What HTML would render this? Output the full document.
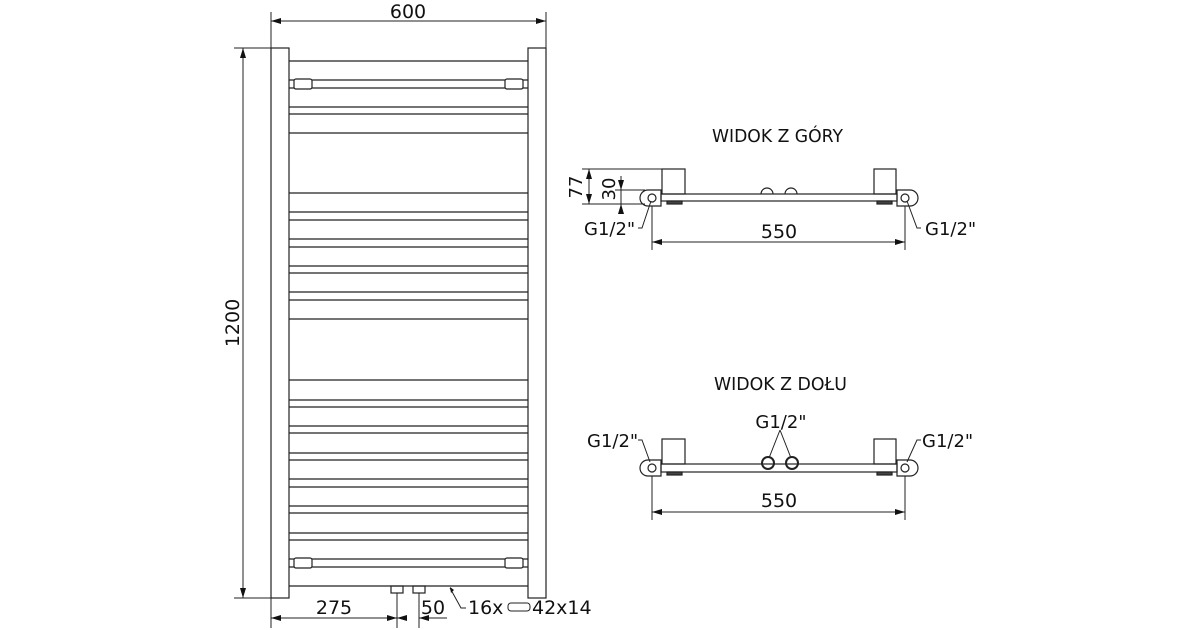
<!DOCTYPE html>
<html><head><meta charset="utf-8"><style>
html,body{margin:0;padding:0;background:#fff;}
svg{display:block;}
text{font-family:"DejaVu Sans","Liberation Sans",sans-serif;fill:#111;}
</style></head><body>
<svg width="1200" height="630" viewBox="0 0 1200 630" xmlns="http://www.w3.org/2000/svg">
<defs>
<marker id="a" viewBox="0 0 10 6" refX="10" refY="3" markerWidth="10" markerHeight="6" orient="auto-start-reverse" markerUnits="userSpaceOnUse"><path d="M0,0 L10,3 L0,6 z" fill="#111"/></marker>
</defs>
<g stroke="#222" stroke-width="1.2" fill="none">
<rect x="271" y="48" width="18" height="550"/>
<rect x="528" y="48" width="18" height="550"/>
<path d="M289 61H528 M289 107H528 M289 114H528 M289 133H528 M289 193H528 M289 212H528 M289 220H528 M289 239H528 M289 247H528 M289 266H528 M289 273H528 M289 292H528 M289 300H528 M289 319H528 M289 380H528 M289 400H528 M289 407H528 M289 426H528 M289 433H528 M289 453H528 M289 460H528 M289 479H528 M289 487H528 M289 506H528 M289 513H528 M289 533H528 M289 540H528 M289 586H528"/>
<path d="M289 80H528 M289 88H528 M289 559H528 M289 567H528"/>
<rect x="294" y="79" width="18" height="10" rx="2" fill="#fff"/>
<rect x="505" y="79" width="18" height="10" rx="2" fill="#fff"/>
<rect x="294" y="558" width="18" height="10" rx="2" fill="#fff"/>
<rect x="505" y="558" width="18" height="10" rx="2" fill="#fff"/>
<rect x="391" y="586" width="12" height="7"/>
<rect x="413" y="586" width="12" height="7"/>
<path d="M271 12V48 M546 12V48" stroke-width="1"/>
<path d="M271 21H546" stroke-width="1" marker-start="url(#a)" marker-end="url(#a)"/>
<path d="M234 48H271 M234 598H271" stroke-width="1"/>
<path d="M243 48V598" stroke-width="1" marker-start="url(#a)" marker-end="url(#a)"/>
<path d="M271 598V628 M397 593V628 M419 593V628" stroke-width="1"/>
<path d="M271 618H397" stroke-width="1" marker-start="url(#a)" marker-end="url(#a)"/>
<path d="M447 618H419" stroke-width="1" marker-end="url(#a)"/>
<path d="M406 618H397" stroke-width="1" marker-end="url(#a)"/>
<path d="M450 588L461 608H466" stroke-width="1"/>
<path d="M450 587l1 6 3-3z" fill="#111" stroke="none"/>
<rect x="508" y="603" width="22" height="8" rx="3" stroke-width="1"/>

<path d="M648 190H661V206H648A8 8 0 0 1 648 190Z"/>
<circle cx="652" cy="198" r="4"/>
<path d="M910 190H897V206H910A8 8 0 0 0 910 190Z"/>
<circle cx="905" cy="198" r="4"/>
<rect x="661" y="194" width="236" height="7"/>
<rect x="662" y="169" width="23" height="25"/>
<rect x="874" y="169" width="22" height="25"/>
<rect x="667" y="201" width="15" height="3" fill="#444"/>
<rect x="877" y="201" width="15" height="3" fill="#444"/>
<path d="M761 194A6 6 0 0 1 773 194 M785 194A6 6 0 0 1 797 194"/>
<path d="M582 169H662 M582 204H645 M615 190H645" stroke-width="1"/>
<path d="M589 169V204" stroke-width="1" marker-start="url(#a)" marker-end="url(#a)"/>
<path d="M621 176V190" stroke-width="1" marker-end="url(#a)"/>
<path d="M621 214V204" stroke-width="1" marker-end="url(#a)"/>
<path d="M621 190V204" stroke-width="1"/>
<path d="M638 228H642L651 201" stroke-width="1"/>
<path d="M921 228H917L907 201" stroke-width="1"/>
<path d="M652 206V250 M905 206V250" stroke-width="1"/>
<path d="M652 242H905" stroke-width="1" marker-start="url(#a)" marker-end="url(#a)"/>

<path d="M648 460H661V476H648A8 8 0 0 1 648 460Z"/>
<circle cx="652" cy="468" r="4"/>
<path d="M910 460H897V476H910A8 8 0 0 0 910 460Z"/>
<circle cx="905" cy="468" r="4"/>
<rect x="661" y="464" width="236" height="8"/>
<rect x="662" y="439" width="23" height="25"/>
<rect x="874" y="439" width="22" height="25"/>
<rect x="667" y="472" width="15" height="3" fill="#444"/>
<rect x="877" y="472" width="15" height="3" fill="#444"/>
<circle cx="768" cy="463" r="6" stroke-width="2"/>
<circle cx="792" cy="463" r="6" stroke-width="2"/>
<path d="M780 430L769 458 M780 430L791 458" stroke-width="1"/>
<path d="M638 440H642L650 462" stroke-width="1"/>
<path d="M921 440H917L907 462" stroke-width="1"/>
<path d="M652 476V520 M905 476V520" stroke-width="1"/>
<path d="M652 512H905" stroke-width="1" marker-start="url(#a)" marker-end="url(#a)"/>
</g>

<g font-size="18">
<text x="408" y="18" text-anchor="middle" font-size="19">600</text>
<text transform="translate(239 323) rotate(-90)" text-anchor="middle" font-size="19">1200</text>
<text x="334" y="614" text-anchor="middle" font-size="19">275</text>
<text x="433" y="614" text-anchor="middle" font-size="19">50</text>
<text x="468" y="614" font-size="19">16x</text>
<text x="532" y="614" font-size="19">42x14</text>
<text x="712" y="142" textLength="131" lengthAdjust="spacingAndGlyphs">WIDOK Z GÓRY</text>
<text x="714" y="390" textLength="133" lengthAdjust="spacingAndGlyphs">WIDOK Z DOŁU</text>
<text transform="translate(582 187) rotate(-90)" text-anchor="middle">77</text>
<text transform="translate(615 189) rotate(-90)" text-anchor="middle">30</text>
<text x="584" y="235">G1/2"</text>
<text x="925" y="235">G1/2"</text>
<text x="779" y="238" text-anchor="middle" font-size="19">550</text>
<text x="587" y="447">G1/2"</text>
<text x="922" y="447">G1/2"</text>
<text x="781" y="428" text-anchor="middle">G1/2"</text>
<text x="779" y="507" text-anchor="middle" font-size="19">550</text>
</g>
</svg>
</body></html>
